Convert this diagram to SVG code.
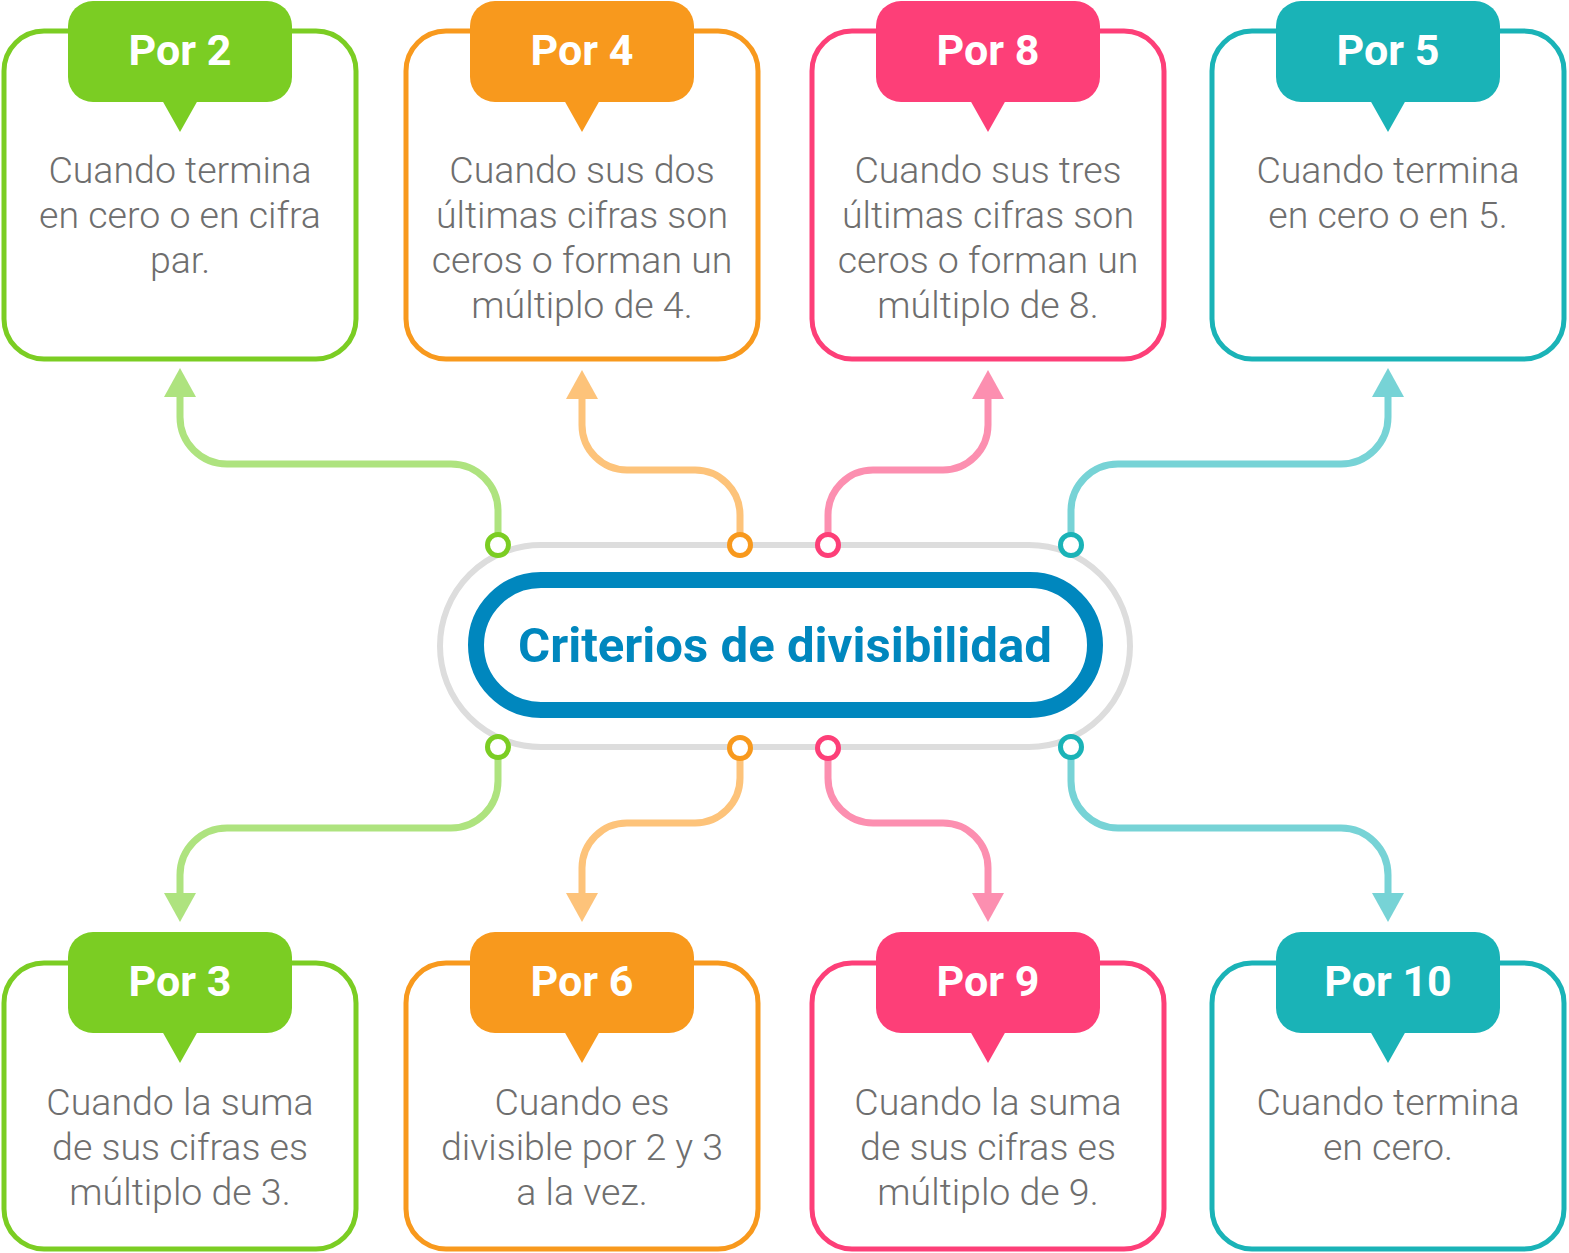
<svg xmlns="http://www.w3.org/2000/svg" width="1569" height="1253" viewBox="0 0 1569 1253">
<style>
.box{fill:#fff;stroke-width:5}
.title{font-family:Roboto,"Liberation Sans",sans-serif;font-weight:700;font-size:43px;fill:#fff;text-anchor:middle}
.body{font-family:Roboto,"Liberation Sans",sans-serif;font-weight:300;font-size:37.5px;fill:#6e6e6e;text-anchor:middle}
.g .box{stroke:#7bcd23}.g use{fill:#7bcd23}
.o .box{stroke:#f8991d}.o use{fill:#f8991d}
.p .box{stroke:#fd3f78}.p use{fill:#fd3f78}
.t .box{stroke:#1ab3b7}.t use{fill:#1ab3b7}
.line{fill:none;stroke-width:7}
.lg{stroke:#aee37f}.lo{stroke:#fdc37a}.lp{stroke:#fc8fb0}.lt{stroke:#77d3d6}
.ag{fill:#aee37f}.ao{fill:#fdc37a}.ap{fill:#fc8fb0}.at{fill:#77d3d6}
.dot{fill:#fff;stroke-width:5}
</style>
<defs>
<g id="tabTop"><rect x="-112" y="1" width="224" height="101" rx="25"/><polygon points="-18,100 18,100 0,132"/></g>
</defs>

<g id="connectors">
<path class="line lg" d="M498,533 V511 A47,47 0 0 0 451,464 H227 A47,47 0 0 1 180,417 V394"/>
<polygon class="ag" points="180,368 164,397 196,397"/>
<path class="line lo" d="M740,533 V515 A45,45 0 0 0 695,470 H627 A45,45 0 0 1 582,425 V396"/>
<polygon class="ao" points="582,370 566,399 598,399"/>
<path class="line lp" d="M828,533 V515 A45,45 0 0 1 873,470 H943 A45,45 0 0 0 988,425 V396"/>
<polygon class="ap" points="988,370 972,399 1004,399"/>
<path class="line lt" d="M1071,533 V511 A47,47 0 0 1 1118,464 H1341 A47,47 0 0 0 1388,417 V394"/>
<polygon class="at" points="1388,368 1372,397 1404,397"/>

<path class="line lg" d="M498,759 V781 A47,47 0 0 1 451,828 H227 A47,47 0 0 0 180,875 V896"/>
<polygon class="ag" points="180,922 164,893 196,893"/>
<path class="line lo" d="M740,760 V778 A45,45 0 0 1 695,823 H627 A45,45 0 0 0 582,868 V896"/>
<polygon class="ao" points="582,922 566,893 598,893"/>
<path class="line lp" d="M828,760 V778 A45,45 0 0 0 873,823 H943 A45,45 0 0 1 988,868 V896"/>
<polygon class="ap" points="988,922 972,893 1004,893"/>
<path class="line lt" d="M1071,759 V781 A47,47 0 0 0 1118,828 H1341 A47,47 0 0 1 1388,875 V896"/>
<polygon class="at" points="1388,922 1372,893 1404,893"/>
</g>

<g id="center">
<rect x="440" y="545" width="690" height="202" rx="101" fill="none" stroke="#dddddd" stroke-width="6"/>
<rect x="476" y="580" width="619" height="130" rx="65" fill="#fff" stroke="#0087be" stroke-width="16"/>
<text x="785" y="662" font-family="Roboto,'Liberation Sans',sans-serif" font-weight="700" font-size="48" fill="#0087be" text-anchor="middle" textLength="534" lengthAdjust="spacingAndGlyphs">Criterios de divisibilidad</text>
<circle class="dot" cx="498" cy="545" r="10.5" stroke="#7bcd23"/>
<circle class="dot" cx="740" cy="545" r="10.5" stroke="#f8991d"/>
<circle class="dot" cx="828" cy="545" r="10.5" stroke="#fd3f78"/>
<circle class="dot" cx="1071" cy="545" r="10.5" stroke="#1ab3b7"/>
<circle class="dot" cx="498" cy="747" r="10.5" stroke="#7bcd23"/>
<circle class="dot" cx="740" cy="748" r="10.5" stroke="#f8991d"/>
<circle class="dot" cx="828" cy="748" r="10.5" stroke="#fd3f78"/>
<circle class="dot" cx="1071" cy="747" r="10.5" stroke="#1ab3b7"/>
</g>

<g id="por2" class="g" transform="translate(180,0)">
<rect class="box" x="-176" y="31" width="352" height="328" rx="40"/>
<use href="#tabTop"/>
<text class="title" x="0" y="65">Por 2</text>
<text class="body" x="0" y="183">Cuando termina</text>
<text class="body" x="0" y="228">en cero o en cifra</text>
<text class="body" x="0" y="273">par.</text>
</g>
<g id="por4" class="o" transform="translate(582,0)">
<rect class="box" x="-176" y="31" width="352" height="328" rx="40"/>
<use href="#tabTop"/>
<text class="title" x="0" y="65">Por 4</text>
<text class="body" x="0" y="183">Cuando sus dos</text>
<text class="body" x="0" y="228">últimas cifras son</text>
<text class="body" x="0" y="273">ceros o forman un</text>
<text class="body" x="0" y="318">múltiplo de 4.</text>
</g>
<g id="por8" class="p" transform="translate(988,0)">
<rect class="box" x="-176" y="31" width="352" height="328" rx="40"/>
<use href="#tabTop"/>
<text class="title" x="0" y="65">Por 8</text>
<text class="body" x="0" y="183">Cuando sus tres</text>
<text class="body" x="0" y="228">últimas cifras son</text>
<text class="body" x="0" y="273">ceros o forman un</text>
<text class="body" x="0" y="318">múltiplo de 8.</text>
</g>
<g id="por5" class="t" transform="translate(1388,0)">
<rect class="box" x="-176" y="31" width="352" height="328" rx="40"/>
<use href="#tabTop"/>
<text class="title" x="0" y="65">Por 5</text>
<text class="body" x="0" y="183">Cuando termina</text>
<text class="body" x="0" y="228">en cero o en 5.</text>
</g>

<g id="por3" class="g" transform="translate(180,931)">
<rect class="box" x="-176" y="32" width="352" height="286" rx="40"/>
<use href="#tabTop"/>
<text class="title" x="0" y="65">Por 3</text>
<text class="body" x="0" y="184">Cuando la suma</text>
<text class="body" x="0" y="229">de sus cifras es</text>
<text class="body" x="0" y="274">múltiplo de 3.</text>
</g>
<g id="por6" class="o" transform="translate(582,931)">
<rect class="box" x="-176" y="32" width="352" height="286" rx="40"/>
<use href="#tabTop"/>
<text class="title" x="0" y="65">Por 6</text>
<text class="body" x="0" y="184">Cuando es</text>
<text class="body" x="0" y="229">divisible por 2 y 3</text>
<text class="body" x="0" y="274">a la vez.</text>
</g>
<g id="por9" class="p" transform="translate(988,931)">
<rect class="box" x="-176" y="32" width="352" height="286" rx="40"/>
<use href="#tabTop"/>
<text class="title" x="0" y="65">Por 9</text>
<text class="body" x="0" y="184">Cuando la suma</text>
<text class="body" x="0" y="229">de sus cifras es</text>
<text class="body" x="0" y="274">múltiplo de 9.</text>
</g>
<g id="por10" class="t" transform="translate(1388,931)">
<rect class="box" x="-176" y="32" width="352" height="286" rx="40"/>
<use href="#tabTop"/>
<text class="title" x="0" y="65">Por 10</text>
<text class="body" x="0" y="184">Cuando termina</text>
<text class="body" x="0" y="229">en cero.</text>
</g>
</svg>
